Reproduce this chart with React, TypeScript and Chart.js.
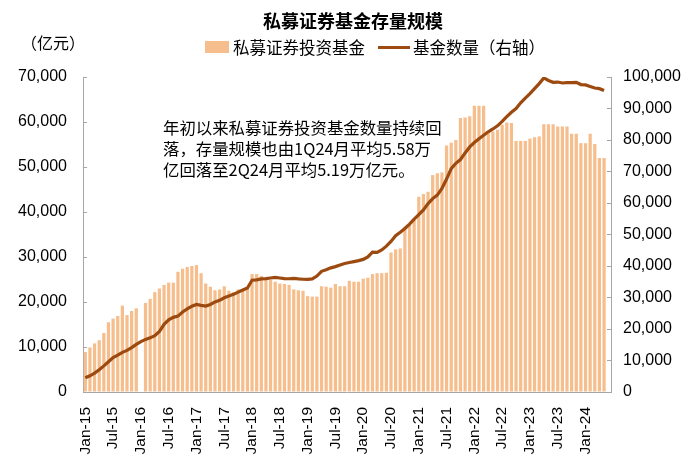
import React, { useEffect, useRef } from "react";
import { Chart, registerables } from "chart.js";

Chart.register(...registerables);

const years = ["15", "16", "17", "18", "19", "20", "21", "22", "23", "24"];
const monthNames = ["Jan", "Feb", "Mar", "Apr", "May", "Jun", "Jul", "Aug", "Sep", "Oct", "Nov", "Dec"];
const categories: string[] = [];
years.forEach((y) => {
  monthNames.forEach((m, mi) => {
    if (y === "24" && mi > 5) return;
    categories.push(`${m}-${y}`);
  });
});

// 私募证券投资基金 (亿元), monthly Jan-15 .. Jun-24
const fundScale: (number | null)[] = [
  8900, 9900, 10800, 11500, 13100, 15500, 16300, 16900, 19200, 17100, 18000, 18600,
  null, 19800, 20700, 22200, 23000, 23800, 24300, 24300, 26700, 27400, 27800, 28000,
  28200, 26400, 24100, 23400, 22600, 22800, 23500, 22500, 22200, 22800, 22500, 23200,
  26200, 26200, 25800, 25000, 24900, 24500, 24100, 24000, 23800, 22800, 22600, 22500,
  21300, 21200, 21200, 23500, 23400, 23200, 24000, 23500, 23500, 24700, 24500, 24500,
  25200, 25400, 26200, 26400, 26400, 26500, 31000, 31700, 31900, 36700, 37100, 38200,
  43400, 44000, 44500, 48200, 48600, 48800, 54800, 55400, 56000, 60900, 61000, 61300,
  63600, 63600, 63600, 57500, 57900, 58300, 59400, 59900, 59800, 55800, 55800, 55800,
  56300, 56600, 56800, 59500, 59500, 59500, 59000, 59000, 59000, 57400, 57400, 55300,
  55300, 57400, 55100, 52000, 52000, null,
];

// 基金数量 (右轴)
const fundCount: (number | null)[] = [
  4500, 5150, 6000, 7050, 8300, 9600, 10900, 11700, 12600, 13200, 14100, 15100,
  16000, 16700, 17200, 17900, 19200, 21500, 22900, 23700, 24100, 25400, 26400, 27200,
  27800, 27500, 27300, 27800, 28600, 29100, 29900, 30500, 31000, 31700, 32400, 33000,
  35500, 35600, 35900, 36000, 36200, 36400, 36200, 36000, 35950, 36050, 35900, 35800,
  35750, 35900, 36800, 38300, 38800, 39400, 39800, 40300, 40800, 41100, 41400, 41700,
  42100, 42900, 44400, 44300, 45100, 46300, 47800, 49600, 50700, 51900, 53300, 54900,
  56300, 57800, 59800, 61400, 62500, 64600, 67600, 70900, 72600, 73800, 75900, 77800,
  79200, 80400, 81500, 82600, 83500, 84500, 85900, 87400, 88800, 90000, 91800, 93300,
  94700, 96300, 97900, 99700, 98900, 98300, 98400, 98100, 98200, 98200, 98300, 97600,
  97500, 97000, 96500, 96300, 95700, null,
];

const leftTicks = [0, 10000, 20000, 30000, 40000, 50000, 60000, 70000];
const rightTicks = [0, 10000, 20000, 30000, 40000, 50000, 60000, 70000, 80000, 90000, 100000];

const BAR_COLOR = "#F6BE8D";
const LINE_COLOR = "#9C4A10";
const AXIS_COLOR = "#A6A6A6";
const NUM_FONT = "'Liberation Sans', Arial, 'Noto Sans CJK SC', sans-serif";
const CJK_FONT = "'Noto Sans CJK SC', 'Liberation Sans', sans-serif";

const fmt = (v: number | string) => Number(v).toLocaleString("en-US");

export default function App() {
  const canvasRef = useRef<HTMLCanvasElement | null>(null);

  useEffect(() => {
    document.body.style.margin = "0";
    const canvas = canvasRef.current;
    if (!canvas) return;
    const chart = new Chart(canvas, {
      type: "bar",
      data: {
        labels: categories,
        datasets: [
          {
            type: "line",
            label: "基金数量（右轴）",
            data: fundCount,
            yAxisID: "y1",
            borderColor: LINE_COLOR,
            backgroundColor: LINE_COLOR,
            borderWidth: 3.2,
            pointRadius: 0,
            tension: 0,
            order: 0,
          },
          {
            type: "bar",
            label: "私募证券投资基金",
            data: fundScale,
            yAxisID: "y",
            backgroundColor: BAR_COLOR,
            borderWidth: 0,
            categoryPercentage: 1,
            barPercentage: 0.7,
            order: 1,
          },
        ],
      },
      options: {
        responsive: false,
        animation: false,
        layout: { padding: { top: 77, left: 0, right: 0, bottom: 0 } },
        plugins: {
          legend: { display: false },
          title: { display: false },
          tooltip: { enabled: false },
        },
        scales: {
          x: {
            type: "category",
            offset: true,
            grid: { display: false },
            border: { display: true, color: AXIS_COLOR, width: 1 },
            ticks: {
              autoSkip: false,
              minRotation: 90,
              maxRotation: 90,
              padding: 7,
              color: "#000",
              font: { family: NUM_FONT, size: 15.5 },
              callback: (_v: any, i: number) => (i % 6 === 0 ? categories[i] : ""),
            },
            afterFit: (s: any) => {
              s.height = 70;
            },
          },
          y: {
            position: "left",
            min: 0,
            max: 70000,
            afterBuildTicks: (s: any) => {
              s.ticks = leftTicks.map((v) => ({ value: v }));
            },
            grid: { drawOnChartArea: false, drawTicks: true, tickLength: -4, color: AXIS_COLOR },
            border: { display: true, color: AXIS_COLOR, width: 1 },
            ticks: {
              padding: 20,
              color: "#000",
              font: { family: NUM_FONT, size: 16 },
              callback: (v: any) => fmt(v),
            },
            afterFit: (s: any) => {
              s.width = 83;
            },
          },
          y1: {
            position: "right",
            min: 0,
            max: 100000,
            afterBuildTicks: (s: any) => {
              s.ticks = rightTicks.map((v) => ({ value: v }));
            },
            grid: { drawOnChartArea: false, drawTicks: true, tickLength: -4, color: AXIS_COLOR },
            border: { display: true, color: AXIS_COLOR, width: 1 },
            ticks: {
              padding: 16,
              color: "#000",
              font: { family: NUM_FONT, size: 16 },
              callback: (v: any) => fmt(v),
            },
            afterFit: (s: any) => {
              s.width = 89;
            },
          },
        },
      },
    });
    return () => chart.destroy();
  }, []);

  return (
    <div style={{ position: "relative", width: 700, height: 462, background: "#fff", overflow: "hidden" }}>
      <canvas ref={canvasRef} width={700} height={462} style={{ display: "block" }} />
      <div
        style={{
          position: "absolute",
          left: 0,
          top: 8,
          width: 706,
          textAlign: "center",
          fontFamily: CJK_FONT,
          fontWeight: "bold",
          fontSize: 18,
          lineHeight: "24px",
          color: "#000",
        }}
      >
        私募证券基金存量规模
      </div>
      <div
        style={{
          position: "absolute",
          left: 21,
          top: 31,
          fontFamily: CJK_FONT,
          fontSize: 16,
          lineHeight: "22px",
          color: "#000",
        }}
      >
        （亿元）
      </div>
      <div
        style={{
          position: "absolute",
          left: 205,
          top: 37,
          height: 20,
          display: "flex",
          alignItems: "center",
          fontFamily: CJK_FONT,
          fontSize: 16.5,
          color: "#000",
          whiteSpace: "nowrap",
        }}
      >
        <span style={{ display: "inline-block", width: 24, height: 12, background: BAR_COLOR, marginRight: 4 }} />
        <span>私募证券投资基金</span>
        <span style={{ display: "inline-block", width: 32, height: 3, background: LINE_COLOR, marginLeft: 13, marginRight: 3 }} />
        <span>基金数量（右轴）</span>
      </div>
      <div
        style={{
          position: "absolute",
          left: 163,
          top: 117,
          fontFamily: CJK_FONT,
          fontSize: 16.4,
          lineHeight: "21px",
          color: "#000",
          whiteSpace: "nowrap",
        }}
      >
        年初以来私募证券投资基金数量持续回
        <br />
        落，存量规模也由1Q24月平均5.58万
        <br />
        亿回落至2Q24月平均5.19万亿元。
      </div>
    </div>
  );
}
